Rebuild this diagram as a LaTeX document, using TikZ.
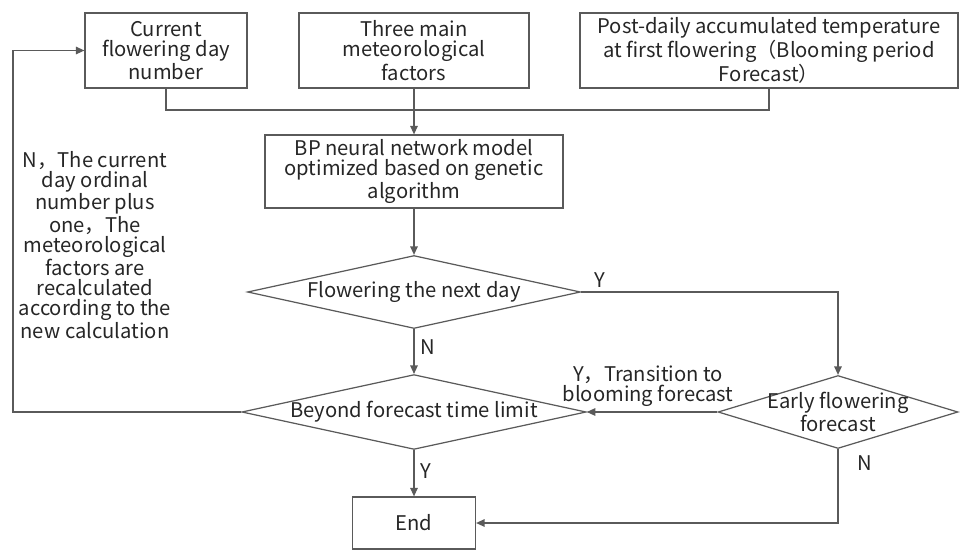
\documentclass[tikz,border=0pt]{standalone}
\usepackage{fontspec}
\setmainfont{Noto Sans CJK SC}
\usetikzlibrary{arrows.meta}
\usetikzlibrary{shapes.geometric}

\definecolor{linegray}{HTML}{5A5A5A}
\definecolor{textgray}{HTML}{262626}

\begin{document}
\begin{tikzpicture}[x=0.02cm,y=-0.02cm,
        line width=0.7pt, draw=linegray, text=textgray,
        font=\fontsize{11.5}{11.4}\selectfont,
        box/.style={draw=linegray, rectangle, align=center, inner sep=1pt},
        decision/.style={draw=linegray, diamond, align=center, inner sep=0pt},
        flow/.style={-{Triangle[length=1.7mm,width=1.5mm]}}]
    \useasboundingbox (0,0) rectangle (961,551);

    % input boxes
    \node[box, minimum width=3.24cm, minimum height=1.5cm] (cur) at (166,50.5)
        {Current\\flowering day\\number};
    \node[box, minimum width=4.6cm, minimum height=1.5cm] (three) at (414,50.5)
        {Three main\\meteorological\\factors};
    \node[box, minimum width=7.56cm, minimum height=1.5cm] (post) at (769,50.5)
        {Post-daily accumulated temperature\\at first flowering（Blooming period\\Forecast）};

    % model
    \node[box, minimum width=5.96cm, minimum height=1.46cm] (bp) at (414,171.5)
        {BP neural network model\\optimized based on genetic\\algorithm};

    % decisions
    \node[decision, aspect=4.6, minimum width=6.66cm, minimum height=1.46cm] (next) at (414,292)
        {Flowering the next day};
    \node[decision, aspect=4.6, minimum width=6.66cm, minimum height=1.44cm] (limit) at (414,412)
        {Beyond forecast time limit};
    \node[decision, minimum width=4.8cm, minimum height=1.46cm,
        label={[align=center]center:{Early flowering\\forecast}}] (early) at (838,412) {};

    \node[box, minimum width=2.46cm, minimum height=1.04cm] (end) at (414,523) {End};

    % connectors
    \coordinate (join) at (414,110);
    \draw (cur.south) |- (join) -| (post.south);
    \draw[flow] (three.south) -- (bp.north);
    \draw[flow] (bp.south) -- (next.north);
    \draw[flow] (next.south) -- node[right, pos=0.4] {N} (limit.north);
    \draw[flow] (limit.south) -- node[right, pos=0.45] {Y} (end.north);
    \draw[flow] (next.east) -| (early.north);
    \node (ylab) at (600,280) {Y};
    \draw[flow] (early.west) -- (limit.east);
    \node[align=center] (ytrans) at (648,386) {Y，Transition to\\blooming forecast};
    \draw[flow] (early.south) |- (end.east);
    \node (nlab) at (865,463) {N};

    % loop back
    \coordinate (lbot) at (13,412);
    \coordinate (ltop) at (13,50.5);
    \draw[flow] (limit.west) -- (lbot) -- (ltop) -- (cur.west);
    \node[align=center] (note) at (95,245)
        {N，The current\\day ordinal\\number plus\\one，The\\meteorological\\factors are\\recalculated\\according to the\\new calculation};
\end{tikzpicture}
\end{document}
